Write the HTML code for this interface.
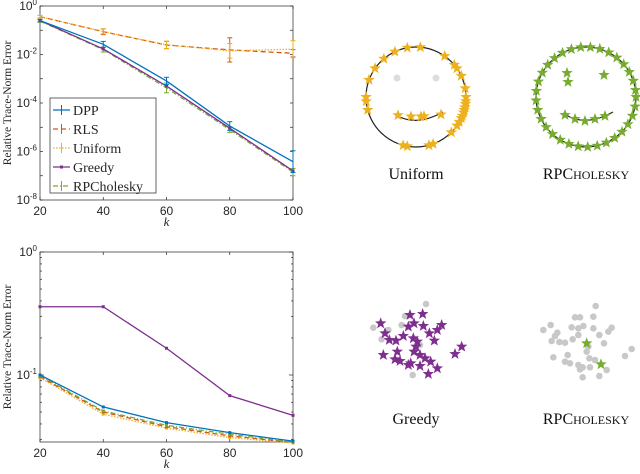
<!DOCTYPE html>
<html><head><meta charset="utf-8"><style>
html,body{margin:0;padding:0;background:#fff;width:640px;height:474px;overflow:hidden}
svg{display:block}
</style></head><body>
<svg id="svg" width="640" height="474" xmlns="http://www.w3.org/2000/svg"></svg>
<script>
const ks=[20,40,60,80,100];
// top chart values (log10 of error)
const topDPP=[-0.6,-1.58,-3.09,-4.95,-6.42];
const topRLS=[-0.44,-1.06,-1.61,-1.81,-1.95];
const topUniform=[-0.44,-1.05,-1.6,-1.85,-1.78];
const topGreedy=[-0.6,-1.77,-3.3,-5.04,-6.8];
const topRPC=[-0.62,-1.8,-3.38,-5.1,-6.85];
const topErrDPP=[0.05,0.12,0.15,0.18,0.45];
const topErrRLS=[0.05,0.12,0.15,0.5,0.15];
const topErrUni=[0.05,0.1,0.15,0.3,0.35];
const topErrRPC=[0.05,0.1,0.2,0.12,0.15];
// bottom chart values (actual error)
const botDPP=[0.1,0.055,0.041,0.034,0.029];
const botRLS=[0.097,0.05,0.038,0.032,0.0283];
const botUniform=[0.095,0.048,0.037,0.031,0.028];
const botGreedy=[0.359,0.359,0.165,0.068,0.047];
const botRPC=[0.099,0.051,0.039,0.033,0.0285];
const topYTicks=[0,-2,-4,-6,-8];
const xTickLabels=["20","40","60","80","100"];
const legendNames=["DPP","RLS","Uniform","Greedy","RPCholesky"];
const C={DPP:"#0072BD",RLS:"#D95319",Uni:"#EDB120",Gre:"#7E2F8E",RPC:"#77AC30"};
const svg=document.getElementById('svg');
const NS="http://www.w3.org/2000/svg";
function el(tag,attrs,parent){const e=document.createElementNS(NS,tag);for(const k in attrs)e.setAttribute(k,attrs[k]);(parent||svg).appendChild(e);return e;}
const X0=40,X1=293;
function xs(k){return X0+(k-20)/80*(X1-X0);}
// top axis: log 0 at y=6, -8 at y=200
function yT(l){return 6+(0-l)/8*194;}
// bottom: 10^0 at 252, 10^-1 at 375
function yB(v){return 252-Math.log10(v)*123;}
const BOTMIN=Math.pow(10,-(442-252)/123);

function axes(top,bottom,name){
  const g=el('g',{});
  
  
  el('rect',{x:X0,y:top,width:X1-X0,height:bottom-top,fill:'none',stroke:'#262626','stroke-width':0.7},g);
  ks.forEach((k,i)=>{
    const x=xs(k);
    el('line',{x1:x,x2:x,y1:bottom,y2:bottom-3,stroke:'#262626','stroke-width':0.7},g);
    el('line',{x1:x,x2:x,y1:top,y2:top+3,stroke:'#262626','stroke-width':0.7},g);
    const t=el('text',{x:x,y:bottom+15,'text-anchor':'middle','font-family':'Liberation Sans, sans-serif','font-size':12,fill:'#262626'},g);
    t.textContent=xTickLabels[i];
    
    
  });
  const kl=el('text',{x:(X0+X1)/2,y:bottom+26,'text-anchor':'middle','font-family':'Liberation Serif, serif','font-style':'italic','font-size':13,fill:'#262626'},g);
  kl.textContent='k';
  
  
  const yl=el('text',{x:0,y:0,transform:`translate(11,${(top+bottom)/2}) rotate(-90)`,'text-anchor':'middle','font-family':'Liberation Serif, serif','font-size':11.5,fill:'#262626'},g);
  yl.textContent='Relative Trace-Norm Error';
  
  
  return g;
}
function tenLabel(g,y,exp){
  const t=el('text',{x:X0-3,y:y+4,'text-anchor':'end','font-family':'Liberation Sans, sans-serif','font-size':12,fill:'#262626'},g);
  const a=el('tspan',{},t);a.textContent='10';
  const b=el('tspan',{dy:-5,'font-size':8},t);b.textContent=exp;
  
  
}
// TOP
const gT=axes(6,200,'top-chart-axes');
for(let l=0;l>=-8;l--){
  const y=yT(l);
  el('line',{x1:X0,x2:X0+3,y1:y,y2:y,stroke:'#262626','stroke-width':0.7},gT);
  el('line',{x1:X1,x2:X1-3,y1:y,y2:y,stroke:'#262626','stroke-width':0.7},gT);
}
topYTicks.forEach(l=>tenLabel(gT,yT(l),String(l)));
function series(vals,ymap,color,dash,name,errs,marker){
  const g=el('g',{});
  
  
  const pts=vals.map((v,i)=>xs(ks[i])+','+ymap(v)).join(' ');
  el('polyline',{points:pts,fill:'none',stroke:color,'stroke-width':1.3,'stroke-dasharray':dash||'none'},g);
  vals.forEach((v,i)=>{
    const x=xs(ks[i]);
    if(errs){
      const y1=yT(v+errs[i]),y2=yT(v-errs[i]);
      el('line',{x1:x,x2:x,y1:y1,y2:y2,stroke:color,'stroke-width':1},g);
      el('line',{x1:x-2.5,x2:x+2.5,y1:y1,y2:y1,stroke:color,'stroke-width':1},g);
      el('line',{x1:x-2.5,x2:x+2.5,y1:y2,y2:y2,stroke:color,'stroke-width':1},g);
    }
    if(marker) el('rect',{x:x-1.5,y:ymap(v)-1.5,width:3,height:3,fill:color},g);
  });
}
series(topRLS,yT,C.RLS,'5,3','top-rls-line',topErrRLS);
series(topUniform,yT,C.Uni,'1.5,1.5','top-uniform-line',topErrUni);
series(topRPC,yT,C.RPC,'5,2,1,2','top-rpcholesky-line',topErrRPC);
series(topGreedy,yT,C.Gre,null,'top-greedy-line',null,true);
series(topDPP,yT,C.DPP,null,'top-dpp-line',topErrDPP);
// legend
const lg=el('g',{});


el('rect',{x:50,y:98,width:106,height:95,fill:'#fff',stroke:'#262626','stroke-width':0.7},lg);
const lc=[C.DPP,C.RLS,C.Uni,C.Gre,C.RPC],ld=['none','5,3','1.5,1.5','none','5,2,1,2'];
legendNames.forEach((n,i)=>{
  const y=110+i*19;
  el('line',{x1:53,x2:70,y1:y,y2:y,stroke:lc[i],'stroke-width':1.3,'stroke-dasharray':ld[i]},lg);
  if(i===3) el('rect',{x:60,y:y-1.5,width:3,height:3,fill:lc[i]},lg);
  else {el('line',{x1:61.5,x2:61.5,y1:y-5,y2:y+5,stroke:lc[i]},lg);}
  const t=el('text',{x:73,y:y+5,'font-family':'Liberation Serif, serif','font-size':14,fill:'#262626'},lg);
  t.textContent=n;
  
  
});
// BOTTOM
const gB=axes(252,442,'bottom-chart-axes');
[1,0.9,0.8,0.7,0.6,0.5,0.4,0.3,0.2,0.1,0.09,0.08,0.07,0.06,0.05,0.04,0.03].forEach(v=>{
  const y=yB(v),len=(v===1||v===0.1)?4:2;
  el('line',{x1:X0,x2:X0+len,y1:y,y2:y,stroke:'#262626','stroke-width':0.7},gB);
  el('line',{x1:X1,x2:X1-len,y1:y,y2:y,stroke:'#262626','stroke-width':0.7},gB);
});
tenLabel(gB,yB(1),'0');tenLabel(gB,yB(0.1),'-1');
series(botUniform,yB,C.Uni,'1.5,1.5','bottom-uniform-line',null,true);
series(botRLS,yB,C.RLS,'5,3','bottom-rls-line',null,true);
series(botRPC,yB,C.RPC,'5,2,1,2','bottom-rpcholesky-line',null,true);
series(botDPP,yB,C.DPP,null,'bottom-dpp-line',null,true);
series(botGreedy,yB,C.Gre,null,'bottom-greedy-line',null,true);

// right panels
function star(cx,cy,r,color,g){
  let p=[];for(let i=0;i<10;i++){const a=-Math.PI/2+i*Math.PI/5,rr=i%2?r*0.42:r;p.push((cx+rr*Math.cos(a)).toFixed(1)+','+(cy+rr*Math.sin(a)).toFixed(1));}
  el('polygon',{points:p.join(' '),fill:color},g);
}
function smiley(cx,cy,name){
  const g=el('g',{});
  
  
  el('circle',{cx:cx,cy:cy,r:50,fill:'none',stroke:'#222','stroke-width':1.2},g);
  el('path',{d:`M${cx-20} ${cy+18} Q${cx} ${cy+30} ${cx+27} ${cy+15}`,fill:'none',stroke:'#222','stroke-width':1.2},g);
  return g;
}
const uniAngles=[200,215,230,245,260,275,305,320,325,335,350,0,5,8,12,15,18,22,25,30,35,45,70,75,100,105,165,175,180];
const uniMouth=[-18,-5,5,8,25];
const gU=smiley(416,97,'uniform-smiley');
el('circle',{cx:397,cy:78,r:3.5,fill:'#ddd'},gU);el('circle',{cx:436,cy:78,r:3.5,fill:'#ddd'},gU);
uniAngles.forEach(a=>{const r=a*Math.PI/180;star(416+50*Math.cos(r),97+50*Math.sin(r),6,'#EDB120',gU);});
uniMouth.forEach(d=>star(416+d,97+20+Math.abs(d)*-0.1,6,'#EDB120',gU));
const rpcAngles=[];for(let a=0;a<360;a+=11)rpcAngles.push(a);
const gR=smiley(586,97,'rpcholesky-smiley');
rpcAngles.forEach(a=>{const r=a*Math.PI/180;star(586+50*Math.cos(r),97+50*Math.sin(r),6,'#77AC30',gR);});
[[567,73],[568,82],[604,75],[565,115],[575,119],[585,121],[595,119],[605,116]].forEach(p=>star(p[0],p[1],6,'#77AC30',gR));
// greedy cluster
const greedyGray=[[258,72],[195,108],[100,143],[145,150],[185,135],[125,178],[218,285],[240,195]];
const greedyStars=[[122,130],[210,105],[248,102],[305,135],[292,150],[135,160],[148,180],[168,182],[190,168],[205,140],[222,130],[250,138],[268,160],[283,182],[220,175],[232,185],[228,200],[172,215],[130,225],[165,238],[180,243],[205,255],[212,250],[240,258],[255,235],[272,245],[292,265],[265,282],[345,222],[365,200],[222,215],[240,225]];
const gG=el('g',{});


greedyGray.forEach(p=>el('circle',{cx:340+p[0]/3,cy:280+p[1]/3,r:3.3,fill:'#c8c8c8'},gG));
greedyStars.forEach(p=>star(340+p[0]/3,280+p[1]/3,6,'#7E2F8E',gG));
const rpcGray=[[767,78],[705,112],[720,112],[760,110],[632,135],[610,150],[652,158],[695,142],[715,145],[730,138],[760,145],[805,155],[815,143],[645,168],[635,183],[658,186],[675,188],[698,178],[715,165],[778,165],[792,190],[683,225],[640,232],[675,245],[690,250],[715,255],[728,262],[720,268],[748,235],[765,240],[800,270],[728,292],[778,288],[855,228],[875,207],[740,215],[745,200],[750,262]];
const rpcStars=[[740,190],[783,253]];
const gP=el('g',{});


rpcGray.forEach(p=>el('circle',{cx:340+p[0]/3,cy:280+p[1]/3,r:3.3,fill:'#c8c8c8'},gP));
rpcStars.forEach(p=>star(340+p[0]/3,280+p[1]/3,6,'#77AC30',gP));
function caption(x,y,html,name){
  const t=el('text',{x:x,y:y,'text-anchor':'middle','font-family':'Liberation Serif, serif','font-size':16,fill:'#111'});
  t.innerHTML=html;
  
  
}
caption(416,179,'Uniform','caption-uniform');
caption(586,179,'RPC<tspan font-size="12">HOLESKY</tspan>','caption-rpcholesky-top');
caption(416,424,'Greedy','caption-greedy');
caption(586,424,'RPC<tspan font-size="12">HOLESKY</tspan>','caption-rpcholesky-bottom');
</script>
</body></html>
